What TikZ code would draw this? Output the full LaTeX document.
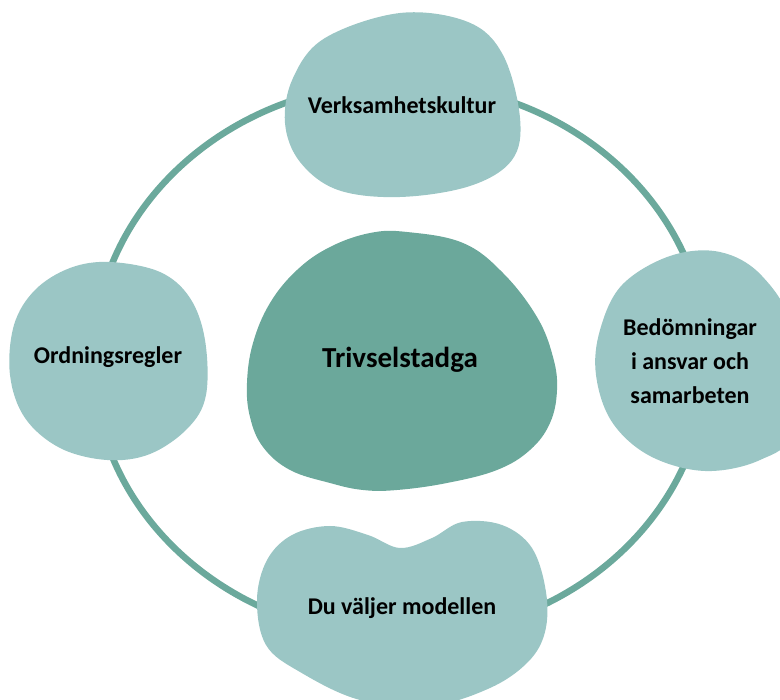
\documentclass[tikz,border=0pt]{standalone}
\usepackage{fontspec}
\setmainfont{Carlito}
\definecolor{blobLight}{HTML}{9BC6C5}
\definecolor{blobDark}{HTML}{6BA89B}
\definecolor{ringCol}{HTML}{6BA99C}
\begin{document}
\begin{tikzpicture}[x=1pt,y=-1pt,
  blob/.style={fill=blobLight,draw=none},
  coreblob/.style={fill=blobDark,draw=none},
  label/.style={font=\bfseries\fontsize{24}{34}\selectfont,text=black,align=center},
  corelabel/.style={font=\bfseries\fontsize{29}{32}\selectfont,text=black}]
\useasboundingbox (0,0) rectangle (780,700);
\clip (0,0) rectangle (780,700);
% ring
\draw[ringCol,line width=6.5pt] (400,360) ellipse [x radius=307, y radius=277];
% top blob
\fill[blob] plot[smooth cycle,tension=0.6] coordinates {
 (285,123) (293,78) (325,38) (400,13) (468,22) (503,55) (520,118) (512,160)
 (470,186) (400,197) (338,190) (300,162)};
% left blob
\fill[blob] plot[smooth cycle,tension=0.6] coordinates {
 (110,262) (160,272) (190,298) (205,340) (206,395) (188,428) (150,454) (107,460)
 (60,448) (25,418) (10,375) (14,325) (35,290) (70,268)};
% right blob
\fill[blob] plot[smooth cycle,tension=0.6] coordinates {
 (600,330) (622,285) (670,256) (720,252) (762,276) (792,330) (792,430) (760,460)
 (705,471) (650,456) (612,422) (596,375)};
% bottom blob
\fill[blob] plot[smooth cycle,tension=0.6] coordinates {
 (267,560) (292,535) (330,526) (368,535) (400,548) (432,538) (462,522) (502,525)
 (532,548) (546,592) (545,632) (528,662) (490,688) (430,706) (360,700) (300,672)
 (266,645) (257,600)};
% central blob
\fill[coreblob] plot[smooth cycle,tension=0.65] coordinates {
 (407,232) (463,243) (503,273) (537,317) (553,357) (557,390) (550,423) (530,450)
 (497,470) (447,483) (397,490) (363,490) (330,483) (290,470) (263,447) (250,417)
 (247,383) (253,343) (270,303) (297,270) (330,247) (370,233)};
% labels
\node[label] (top) at (402,105) {Verksamhetskultur};
\node[label] (left) at (108,357) {Ordningsregler};
\node[label] (right) at (690,361) {Bedömningar\\i ansvar och\\samarbeten};
\node[label] (bottom) at (402,608) {Du väljer modellen};
\node[corelabel] (core) at (400,360) {Trivselstadga};
\end{tikzpicture}
\end{document}
